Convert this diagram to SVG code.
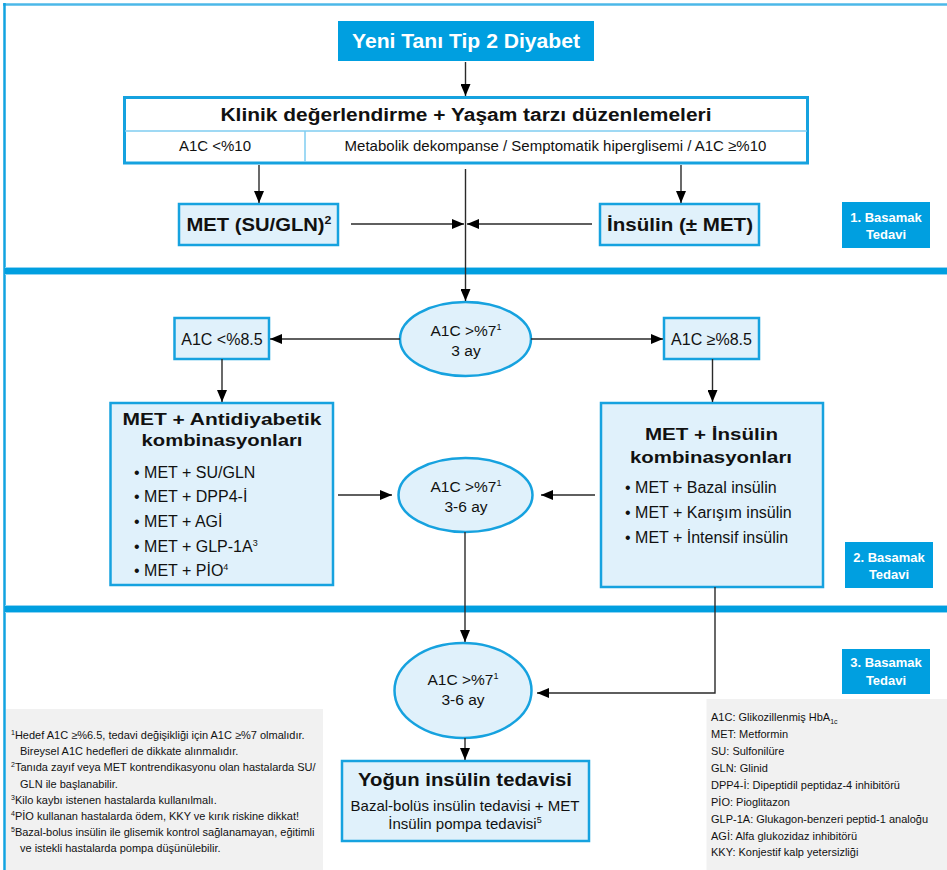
<svg xmlns="http://www.w3.org/2000/svg" width="947" height="870" viewBox="0 0 947 870">
<defs>
<marker id="ah" viewBox="0 0 12 10" refX="12" refY="5" markerWidth="12" markerHeight="10" markerUnits="userSpaceOnUse" orient="auto">
<path d="M0,0 L12,5 L0,10 Z" fill="#000"/>
</marker>
</defs>
<style>
text{font-family:"Liberation Sans",Arial,sans-serif;fill:#111;}
.b{font-weight:bold;}
.w{fill:#fff;font-weight:bold;}
.box{fill:#e0f1fb;stroke:#16a2df;stroke-width:2.5;}
.blue{fill:#009fe0;}
.con{fill:none;stroke:#2a2a2a;stroke-width:1.4;}
.sep{stroke:#009fe0;stroke-width:6;}
.sepl{stroke:#8fd3f2;stroke-width:8;}
.gray{fill:#f1f1f1;}
.n15{font-size:15px;}
.n155{font-size:15.5px;}
.n16{font-size:16px;}
.n11{font-size:11px;}
</style>
<rect width="947" height="870" fill="#fff"/>
<g id="frame">
<line x1="3" y1="4.5" x2="947" y2="4.5" stroke="#4cb8e8" stroke-width="2.5"/>
<line x1="4.5" y1="3" x2="4.5" y2="870" stroke="#12a3e0" stroke-width="2.5"/>
<line class="sepl" x1="5" y1="271" x2="947" y2="271"/>
<line class="sep" x1="5" y1="271" x2="947" y2="271"/>
<line class="sepl" x1="5" y1="609" x2="947" y2="609"/>
<line class="sep" x1="5" y1="609" x2="947" y2="609"/>
</g>
<g id="title">
<rect class="blue" x="338" y="21" width="256" height="40"/>
<text class="w" x="466" y="48" font-size="20.5" text-anchor="middle" textLength="228" lengthAdjust="spacingAndGlyphs">Yeni Tanı Tip 2 Diyabet</text>
</g>
<g id="klinik">
<rect x="124.5" y="97.5" width="683" height="65.5" fill="#fff" stroke="#16a2df" stroke-width="3"/>
<line x1="125" y1="131" x2="807" y2="131" stroke="#7fcdf0" stroke-width="1.5"/>
<line x1="305" y1="131" x2="305" y2="162" stroke="#7fcdf0" stroke-width="1.5"/>
<text class="b" x="466" y="121" font-size="18" text-anchor="middle" textLength="491" lengthAdjust="spacingAndGlyphs">Klinik değerlendirme + Yaşam tarzı düzenlemeleri</text>
<text class="n15" x="215" y="151" text-anchor="middle">A1C &lt;%10</text>
<text class="n15" x="555.5" y="151" text-anchor="middle">Metabolik dekompanse / Semptomatik hiperglisemi / A1C ≥%10</text>
</g>
<g id="met-su">
<rect class="box" x="179" y="204" width="159" height="41"/>
<text class="b" x="186.5" y="231" font-size="18" textLength="145" lengthAdjust="spacingAndGlyphs">MET (SU/GLN)<tspan font-size="11" dy="-7">2</tspan></text>
</g>
<g id="insulin">
<rect class="box" x="600" y="204" width="159" height="41"/>
<text class="b" x="680" y="231" font-size="18" text-anchor="middle" textLength="146" lengthAdjust="spacingAndGlyphs">İnsülin (± MET)</text>
</g>
<g id="step1">
<rect class="blue" x="842" y="202" width="88" height="46"/>
<text class="w" x="886" y="222" font-size="13" text-anchor="middle">1. Basamak</text>
<text class="w" x="886" y="239" font-size="13" text-anchor="middle">Tedavi</text>
</g>
<g id="e1">
<ellipse class="box" cx="465.5" cy="339" rx="65.5" ry="37"/>
<text class="n155" x="466" y="336" text-anchor="middle">A1C &gt;%7<tspan font-size="9" dy="-6">1</tspan></text>
<text class="n155" x="466" y="356" text-anchor="middle">3 ay</text>
</g>
<g id="lt85">
<rect class="box" x="174.5" y="318" width="94.5" height="41"/>
<text class="n16" x="222" y="345" text-anchor="middle">A1C &lt;%8.5</text>
</g>
<g id="ge85">
<rect class="box" x="664" y="318" width="95" height="41"/>
<text class="n16" x="711.5" y="345" text-anchor="middle">A1C ≥%8.5</text>
</g>
<g id="antidiyabetik">
<rect class="box" x="110.5" y="403" width="222.5" height="182"/>
<text class="b" x="222" y="425" font-size="17" text-anchor="middle" textLength="199" lengthAdjust="spacingAndGlyphs">MET + Antidiyabetik</text>
<text class="b" x="222" y="446" font-size="17" text-anchor="middle" textLength="161" lengthAdjust="spacingAndGlyphs">kombinasyonları</text>
<text class="n16" x="134" y="478">• MET + SU/GLN</text>
<text class="n16" x="134" y="502">• MET + DPP4-İ</text>
<text class="n16" x="134" y="527">• MET + AGİ</text>
<text class="n16" x="134" y="551.5">• MET + GLP-1A<tspan font-size="9" dy="-6">3</tspan></text>
<text class="n16" x="134" y="576">• MET + PİO<tspan font-size="9" dy="-6">4</tspan></text>
</g>
<g id="insulin-komb">
<rect class="box" x="601" y="403" width="222" height="184"/>
<text class="b" x="711.5" y="440" font-size="17" text-anchor="middle" textLength="133" lengthAdjust="spacingAndGlyphs">MET + İnsülin</text>
<text class="b" x="711" y="463" font-size="17" text-anchor="middle" textLength="162" lengthAdjust="spacingAndGlyphs">kombinasyonları</text>
<text class="n16" x="625" y="492.5">• MET + Bazal insülin</text>
<text class="n16" x="625" y="517.5">• MET + Karışım insülin</text>
<text class="n16" x="625" y="542.5">• MET + İntensif insülin</text>
</g>
<g id="e2">
<ellipse class="box" cx="465.5" cy="495" rx="67" ry="37"/>
<text class="n155" x="466" y="491.5" text-anchor="middle">A1C &gt;%7<tspan font-size="9" dy="-6">1</tspan></text>
<text class="n155" x="466" y="512" text-anchor="middle">3-6 ay</text>
</g>
<g id="step2">
<rect class="blue" x="845" y="542" width="88" height="46"/>
<text class="w" x="889" y="562" font-size="13" text-anchor="middle">2. Basamak</text>
<text class="w" x="889" y="579" font-size="13" text-anchor="middle">Tedavi</text>
</g>
<g id="e3">
<ellipse class="box" cx="463" cy="690.5" rx="68.5" ry="47.5"/>
<text class="n155" x="463" y="684.5" text-anchor="middle">A1C &gt;%7<tspan font-size="9" dy="-6">1</tspan></text>
<text class="n155" x="463" y="705" text-anchor="middle">3-6 ay</text>
</g>
<g id="step3">
<rect class="blue" x="842" y="649" width="88" height="45"/>
<text class="w" x="886" y="667" font-size="13" text-anchor="middle">3. Basamak</text>
<text class="w" x="886" y="685" font-size="13" text-anchor="middle">Tedavi</text>
</g>
<g id="yogun">
<rect class="box" x="342" y="761" width="247" height="80"/>
<text class="b" x="465" y="786" font-size="18" text-anchor="middle" textLength="214" lengthAdjust="spacingAndGlyphs">Yoğun insülin tedavisi</text>
<text class="n15" x="465" y="811" text-anchor="middle">Bazal-bolüs insülin tedavisi + MET</text>
<text class="n15" x="465" y="828.5" text-anchor="middle">İnsülin pompa tedavisi<tspan font-size="9" dy="-6">5</tspan></text>
</g>
<g id="footnotes">
<rect class="gray" x="6" y="709" width="317" height="161"/>
<text class="n11" x="11" y="739"><tspan font-size="7" dy="-4">1</tspan><tspan dy="4">Hedef A1C ≥%6.5, tedavi değişikliği için  A1C ≥%7 olmalıdır.</tspan></text>
<text class="n11" x="20" y="755">Bireysel A1C hedefleri de dikkate alınmalıdır.</text>
<text class="n11" x="11" y="771"><tspan font-size="7" dy="-4">2</tspan><tspan dy="4">Tanıda zayıf veya MET kontrendikasyonu olan hastalarda SU/</tspan></text>
<text class="n11" x="20" y="787.5">GLN ile başlanabilir.</text>
<text class="n11" x="11" y="804"><tspan font-size="7" dy="-4">3</tspan><tspan dy="4">Kilo kaybı istenen hastalarda kullanılmalı.</tspan></text>
<text class="n11" x="11" y="820"><tspan font-size="7" dy="-4">4</tspan><tspan dy="4">PİO kullanan hastalarda ödem, KKY ve kırık riskine dikkat!</tspan></text>
<text class="n11" x="11" y="836"><tspan font-size="7" dy="-4">5</tspan><tspan dy="4">Bazal-bolus insülin ile  glisemik kontrol sağlanamayan, eğitimli</tspan></text>
<text class="n11" x="20" y="852">ve istekli hastalarda pompa düşünülebilir.</text>
</g>
<g id="legend">
<rect class="gray" x="706.5" y="699" width="240.5" height="171"/>
<text class="n11" x="711" y="721">A1C: Glikozillenmiş HbA<tspan font-size="7" dy="3">1c</tspan></text>
<text class="n11" x="711" y="738">MET: Metformin</text>
<text class="n11" x="711" y="755">SU: Sulfonilüre</text>
<text class="n11" x="711" y="772">GLN: Glinid</text>
<text class="n11" x="711" y="789">DPP4-İ: Dipeptidil peptidaz-4 inhibitörü</text>
<text class="n11" x="711" y="806">PİO: Pioglitazon</text>
<text class="n11" x="711" y="823">GLP-1A: Glukagon-benzeri peptid-1 analoğu</text>
<text class="n11" x="711" y="840">AGİ: Alfa glukozidaz inhibitörü</text>
<text class="n11" x="711" y="856">KKY: Konjestif kalp yetersizliği</text>
</g>
<g id="connectors">
<line class="con" x1="465.5" y1="62" x2="465.5" y2="96" marker-end="url(#ah)"/>
<line class="con" x1="259" y1="165" x2="259" y2="203" marker-end="url(#ah)"/>
<line class="con" x1="681" y1="165" x2="681" y2="203" marker-end="url(#ah)"/>
<line class="con" x1="351" y1="224" x2="464" y2="224" marker-end="url(#ah)"/>
<line class="con" x1="592" y1="224" x2="467" y2="224" marker-end="url(#ah)"/>
<line class="con" x1="465.5" y1="169" x2="465.5" y2="301" marker-end="url(#ah)"/>
<line class="con" x1="400" y1="339" x2="270" y2="339" marker-end="url(#ah)"/>
<line class="con" x1="531" y1="339" x2="663" y2="339" marker-end="url(#ah)"/>
<line class="con" x1="222" y1="359" x2="222" y2="402" marker-end="url(#ah)"/>
<line class="con" x1="712.5" y1="359" x2="712.5" y2="402" marker-end="url(#ah)"/>
<line class="con" x1="338" y1="495" x2="392" y2="495" marker-end="url(#ah)"/>
<line class="con" x1="595" y1="495" x2="541" y2="495" marker-end="url(#ah)"/>
<line class="con" x1="465" y1="532" x2="465" y2="642" marker-end="url(#ah)"/>
<polyline class="con" points="715,587 715,693 537,693" marker-end="url(#ah)"/>
<line class="con" x1="465" y1="738" x2="465" y2="760" marker-end="url(#ah)"/>
</g>
</svg>
